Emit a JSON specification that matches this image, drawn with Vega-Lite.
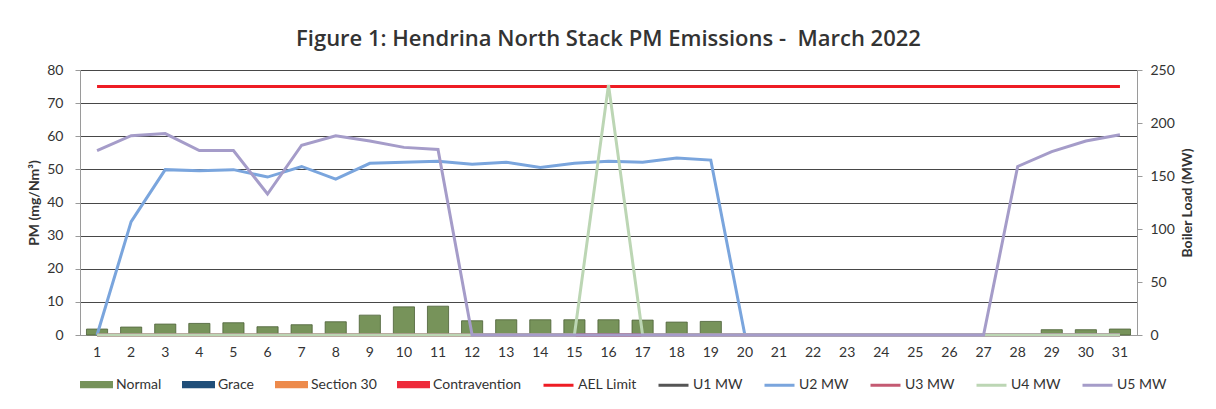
{
  "$schema": "https://vega.github.io/schema/vega-lite/v6.json",
  "width": 1057,
  "height": 265,
  "autosize": {"type": "none"},
  "padding": {"left": 80, "top": 70, "right": 79, "bottom": 74},
  "background": "white",
  "title": {"text": "Figure 1: Hendrina North Stack PM Emissions - \u00a0March 2022", "font": "Open Sans", "fontSize": 22, "fontWeight": 600, "color": "#333333", "offset": 12, "anchor": "middle"},
  "config": {
    "font": "Lato",
    "view": {"stroke": null},
    "axis": {"labelFont": "Lato", "titleFont": "Lato", "labelColor": "#333333", "titleColor": "#333333"},
    "legend": {"labelFont": "Lato"}
  },
  "data": {"values": [
    {"day": 1, "PM": 1.8, "AEL": 75, "U1 MW": 0, "U2 MW": 0, "U3 MW": 0, "U4 MW": 0, "U5 MW": 174},
    {"day": 2, "PM": 2.4, "AEL": 75, "U1 MW": 0, "U2 MW": 107, "U3 MW": 0, "U4 MW": 0, "U5 MW": 188},
    {"day": 3, "PM": 3.3, "AEL": 75, "U1 MW": 0, "U2 MW": 156, "U3 MW": 0, "U4 MW": 0, "U5 MW": 190},
    {"day": 4, "PM": 3.5, "AEL": 75, "U1 MW": 0, "U2 MW": 155, "U3 MW": 0, "U4 MW": 0, "U5 MW": 174},
    {"day": 5, "PM": 3.7, "AEL": 75, "U1 MW": 0, "U2 MW": 156, "U3 MW": 0, "U4 MW": 0, "U5 MW": 174},
    {"day": 6, "PM": 2.5, "AEL": 75, "U1 MW": 0, "U2 MW": 149, "U3 MW": 0, "U4 MW": 0, "U5 MW": 133},
    {"day": 7, "PM": 3.1, "AEL": 75, "U1 MW": 0, "U2 MW": 159, "U3 MW": 0, "U4 MW": 0, "U5 MW": 179},
    {"day": 8, "PM": 4.0, "AEL": 75, "U1 MW": 0, "U2 MW": 147, "U3 MW": 0, "U4 MW": 0, "U5 MW": 188},
    {"day": 9, "PM": 6.0, "AEL": 75, "U1 MW": 0, "U2 MW": 162, "U3 MW": 0, "U4 MW": 0, "U5 MW": 183},
    {"day": 10, "PM": 8.5, "AEL": 75, "U1 MW": 0, "U2 MW": 163, "U3 MW": 0, "U4 MW": 0, "U5 MW": 177},
    {"day": 11, "PM": 8.7, "AEL": 75, "U1 MW": 0, "U2 MW": 164, "U3 MW": 0, "U4 MW": 0, "U5 MW": 175},
    {"day": 12, "PM": 4.3, "AEL": 75, "U1 MW": 0, "U2 MW": 161, "U3 MW": 0, "U4 MW": 0, "U5 MW": 0},
    {"day": 13, "PM": 4.6, "AEL": 75, "U1 MW": 0, "U2 MW": 163, "U3 MW": 0, "U4 MW": 0, "U5 MW": 0},
    {"day": 14, "PM": 4.6, "AEL": 75, "U1 MW": 0, "U2 MW": 158, "U3 MW": 0, "U4 MW": 0, "U5 MW": 0},
    {"day": 15, "PM": 4.6, "AEL": 75, "U1 MW": 0, "U2 MW": 162, "U3 MW": 0, "U4 MW": 0, "U5 MW": 0},
    {"day": 16, "PM": 4.6, "AEL": 75, "U1 MW": 0, "U2 MW": 164, "U3 MW": 0, "U4 MW": 236, "U5 MW": 0},
    {"day": 17, "PM": 4.5, "AEL": 75, "U1 MW": 0, "U2 MW": 163, "U3 MW": 0, "U4 MW": 0, "U5 MW": 0},
    {"day": 18, "PM": 3.9, "AEL": 75, "U1 MW": 0, "U2 MW": 167, "U3 MW": 0, "U4 MW": 0, "U5 MW": 0},
    {"day": 19, "PM": 4.1, "AEL": 75, "U1 MW": 0, "U2 MW": 165, "U3 MW": 0, "U4 MW": 0, "U5 MW": 0},
    {"day": 20, "PM": 0, "AEL": 75, "U1 MW": 0, "U2 MW": 0, "U3 MW": 0, "U4 MW": 0, "U5 MW": 0},
    {"day": 21, "PM": 0, "AEL": 75, "U1 MW": 0, "U2 MW": 0, "U3 MW": 0, "U4 MW": 0, "U5 MW": 0},
    {"day": 22, "PM": 0, "AEL": 75, "U1 MW": 0, "U2 MW": 0, "U3 MW": 0, "U4 MW": 0, "U5 MW": 0},
    {"day": 23, "PM": 0, "AEL": 75, "U1 MW": 0, "U2 MW": 0, "U3 MW": 0, "U4 MW": 0, "U5 MW": 0},
    {"day": 24, "PM": 0, "AEL": 75, "U1 MW": 0, "U2 MW": 0, "U3 MW": 0, "U4 MW": 0, "U5 MW": 0},
    {"day": 25, "PM": 0, "AEL": 75, "U1 MW": 0, "U2 MW": 0, "U3 MW": 0, "U4 MW": 0, "U5 MW": 0},
    {"day": 26, "PM": 0, "AEL": 75, "U1 MW": 0, "U2 MW": 0, "U3 MW": 0, "U4 MW": 0, "U5 MW": 0},
    {"day": 27, "PM": 0, "AEL": 75, "U1 MW": 0, "U2 MW": 0, "U3 MW": 0, "U4 MW": 0, "U5 MW": 0},
    {"day": 28, "PM": 0, "AEL": 75, "U1 MW": 0, "U2 MW": 0, "U3 MW": 0, "U4 MW": 0, "U5 MW": 159},
    {"day": 29, "PM": 1.6, "AEL": 75, "U1 MW": 0, "U2 MW": 0, "U3 MW": 0, "U4 MW": 0, "U5 MW": 173},
    {"day": 30, "PM": 1.6, "AEL": 75, "U1 MW": 0, "U2 MW": 0, "U3 MW": 0, "U4 MW": 0, "U5 MW": 183},
    {"day": 31, "PM": 1.8, "AEL": 75, "U1 MW": 0, "U2 MW": 0, "U3 MW": 0, "U4 MW": 0, "U5 MW": 189}
  ]},
  "encoding": {
    "x": {
      "field": "day", "type": "ordinal",
      "scale": {"paddingInner": 0.38, "paddingOuter": 0.19},
      "axis": {"title": null, "labelAngle": 0, "ticks": false, "domain": true, "domainColor": "#9a9a9a", "labelPadding": 10, "labelFontSize": 14, "grid": false}
    }
  },
  "layer": [
    {
      "layer": [
        {
          "mark": {"type": "bar", "stroke": "#4b5f36", "strokeWidth": 0.8},
          "encoding": {
            "y": {
              "field": "PM", "type": "quantitative",
              "scale": {"domain": [0, 80]},
              "axis": {"title": "PM (mg/Nm³)", "values": [0, 10, 20, 30, 40, 50, 60, 70, 80], "grid": true, "gridColor": "#333333", "gridWidth": 0.9, "domain": true, "domainColor": "#9a9a9a", "ticks": true, "tickSize": 5, "tickColor": "#9a9a9a", "labelPadding": 12, "labelFontSize": 14, "titleFontSize": 14, "titleFontWeight": "bold", "titlePadding": 5, "labelOverlap": false}
            },
            "color": {
              "datum": "Normal", "type": "nominal", "title": null,
              "scale": {
                "domain": ["Normal", "Grace", "Section 30", "Contravention", "AEL Limit", "U1 MW", "U2 MW", "U3 MW", "U4 MW", "U5 MW"],
                "range": ["#77935a", "#1f4e79", "#ed8a4b", "#ee2a3a", "#ee1c24", "#555555", "#7aa5dd", "#c45a72", "#bcd6b4", "#a59cc9"]
              },
              "legend": {
                "orient": "bottom", "direction": "horizontal", "title": null, "offset": 9,
                "symbolSize": 900, "symbolStrokeWidth": 3, "labelFontSize": 14, "labelColor": "#333333", "labelOffset": 3, "columnPadding": 15,
                "encode": {"symbols": {"update": {
                  "shape": {"signal": "indexof(['Normal','Grace','Section 30','Contravention'], datum.value) >= 0 ? 'M-1,-0.14H1V0.14H-1Z' : 'M-1,0H1'"},
                  "fill": {"signal": "indexof(['Normal','Grace','Section 30','Contravention'], datum.value) >= 0 ? scale('color', datum.value) : 'transparent'"},
                  "stroke": {"signal": "scale('color', datum.value)"},
                  "opacity": {"value": 1},
                  "fillOpacity": {"value": 1},
                  "strokeOpacity": {"value": 1}
                }}}
              }
            }
          }
        },
        {
          "mark": {"type": "line", "strokeWidth": 3},
          "encoding": {
            "y": {
              "field": "AEL", "type": "quantitative",
              "axis": {"title": "PM (mg/Nm³)", "values": [0, 10, 20, 30, 40, 50, 60, 70, 80], "grid": true, "gridColor": "#333333", "gridWidth": 0.9, "domain": true, "domainColor": "#9a9a9a", "ticks": true, "tickSize": 5, "tickColor": "#9a9a9a", "labelPadding": 12, "labelFontSize": 14, "titleFontSize": 14, "titleFontWeight": "bold", "titlePadding": 5, "labelOverlap": false}
            },
            "color": {
              "datum": "AEL Limit", "type": "nominal", "title": null,
              "legend": {
                "orient": "bottom", "direction": "horizontal", "title": null, "offset": 9,
                "symbolSize": 900, "symbolStrokeWidth": 3, "labelFontSize": 14, "labelColor": "#333333", "labelOffset": 3, "columnPadding": 15,
                "encode": {"symbols": {"update": {
                  "shape": {"signal": "indexof(['Normal','Grace','Section 30','Contravention'], datum.value) >= 0 ? 'M-1,-0.14H1V0.14H-1Z' : 'M-1,0H1'"},
                  "fill": {"signal": "indexof(['Normal','Grace','Section 30','Contravention'], datum.value) >= 0 ? scale('color', datum.value) : 'transparent'"},
                  "stroke": {"signal": "scale('color', datum.value)"},
                  "opacity": {"value": 1},
                  "fillOpacity": {"value": 1},
                  "strokeOpacity": {"value": 1}
                }}}
              }
            }
          }
        }
      ]
    },
    {
      "transform": [{"fold": ["U1 MW", "U2 MW", "U3 MW", "U4 MW", "U5 MW"], "as": ["series", "MW"]}],
      "mark": {"type": "line", "strokeWidth": 3},
      "encoding": {
        "y": {
          "field": "MW", "type": "quantitative",
          "scale": {"domain": [0, 250]},
          "axis": {"orient": "right", "title": "Boiler Load (MW)", "titleAngle": 270, "values": [0, 50, 100, 150, 200, 250], "grid": false, "domain": true, "domainColor": "#9a9a9a", "ticks": true, "tickSize": 5, "tickColor": "#9a9a9a", "labelPadding": 8, "labelFontSize": 14, "titleFontSize": 14, "titleFontWeight": "bold", "titlePadding": 20}
        },
        "color": {
          "field": "series", "type": "nominal", "title": null,
          "legend": {
            "orient": "bottom", "direction": "horizontal", "title": null, "offset": 9,
            "symbolSize": 900, "symbolStrokeWidth": 3, "labelFontSize": 14, "labelColor": "#333333", "labelOffset": 3, "columnPadding": 15,
            "encode": {"symbols": {"update": {
              "shape": {"signal": "indexof(['Normal','Grace','Section 30','Contravention'], datum.value) >= 0 ? 'M-1,-0.14H1V0.14H-1Z' : 'M-1,0H1'"},
              "fill": {"signal": "indexof(['Normal','Grace','Section 30','Contravention'], datum.value) >= 0 ? scale('color', datum.value) : 'transparent'"},
              "stroke": {"signal": "scale('color', datum.value)"},
              "opacity": {"value": 1},
              "fillOpacity": {"value": 1},
              "strokeOpacity": {"value": 1}
            }}}
          }
        }
      }
    }
  ],
  "resolve": {"scale": {"y": "independent"}}
}
